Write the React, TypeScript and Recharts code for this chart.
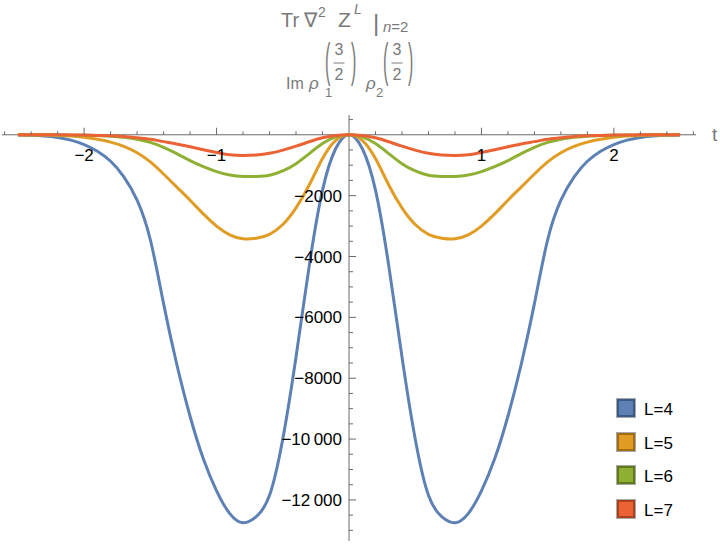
import React from "react";
import {
  LineChart,
  Line,
  XAxis,
  YAxis,
  ReferenceLine,
  ReferenceDot,
  Legend,
} from "recharts";

// t samples, -2.5 .. 2.5
const tValues = [
  -2.5, -2.4, -2.3, -2.2, -2.1, -2.0, -1.9, -1.8, -1.7, -1.6, -1.5, -1.4, -1.3,
  -1.2, -1.1, -1.0, -0.9, -0.8, -0.7, -0.6, -0.5, -0.4, -0.3, -0.2, -0.1, 0,
  0.1, 0.2, 0.3, 0.4, 0.5, 0.6, 0.7, 0.8, 0.9, 1.0, 1.1, 1.2, 1.3, 1.4, 1.5,
  1.6, 1.7, 1.8, 1.9, 2.0, 2.1, 2.2, 2.3, 2.4, 2.5,
];

const l4 = [
  -7, -18, -42, -88, -175, -320, -540, -870, -1380, -2150, -3450, -5550, -7550,
  -9250, -10650, -11700, -12450, -12750, -12550, -11850, -10000, -7300, -4300,
  -1820, -450, 0, -450, -1820, -4300, -7300, -10000, -11850, -12550, -12750,
  -12450, -11700, -10650, -9250, -7550, -5550, -3450, -2150, -1380, -870, -540,
  -320, -175, -88, -42, -18, -7,
];

const l5 = [
  -2, -5, -10, -20, -40, -80, -145, -240, -380, -590, -890, -1290, -1720, -2150,
  -2600, -3000, -3290, -3420, -3400, -3270, -2950, -2400, -1650, -780, -180, 0,
  -180, -780, -1650, -2400, -2950, -3270, -3400, -3420, -3290, -3000, -2600,
  -2150, -1720, -1290, -890, -590, -380, -240, -145, -80, -40, -20, -10, -5, -2,
];

const l6 = [
  0, 0, -1, -3, -6, -12, -25, -45, -85, -145, -250, -410, -620, -850, -1050,
  -1210, -1320, -1370, -1370, -1330, -1190, -950, -620, -290, -70, 0, -70, -290,
  -620, -950, -1190, -1330, -1370, -1370, -1320, -1210, -1050, -850, -620, -410,
  -250, -145, -85, -45, -25, -12, -6, -3, -1, 0, 0,
];

const l7 = [
  0, 0, -1, -2, -5, -10, -20, -35, -60, -100, -150, -225, -300, -395, -490,
  -580, -655, -680, -665, -610, -505, -375, -230, -100, -25, 0, -25, -100, -230,
  -375, -505, -610, -665, -680, -655, -580, -490, -395, -300, -225, -150, -100,
  -60, -35, -20, -10, -5, -2, -1, 0, 0,
];

const seriesKeys = ["L4", "L5", "L6", "L7"];
const seriesNames = ["L=4", "L=5", "L=6", "L=7"];
const seriesColors = ["#5e81b5", "#e19c24", "#8fb032", "#eb6235"];
const seriesEdges = ["#3d5a87", "#a36d12", "#60791c", "#a9421d"];

const xMajorTicks = [-2, -1, 1, 2];
const xMajorLabels = ["\u22122", "\u22121", "1", "2"];
const yMajorTicks = [-12000, -10000, -8000, -6000, -4000, -2000];
const yMajorLabels = [
  "\u221212\u2009000",
  "\u221210\u2009000",
  "\u22128000",
  "\u22126000",
  "\u22124000",
  "\u22122000",
];
const xMinorTicks = Array.from({ length: 27 }, (_, i) => -2.6 + i * 0.2).filter(
  (v) => Math.abs(v) > 1e-6 && Math.abs(v - Math.round(v)) > 1e-6
);
const yMinorTicks = Array.from({ length: 28 }, (_, i) => 500 - i * 500).filter(
  (v) => v !== 0 && v % 2000 !== 0
);

const rows = tValues.map((t, i) => ({
  t,
  L4: l4[i],
  L5: l5[i],
  L6: l6[i],
  L7: l7[i],
}));

const axisColor = "#6b6b6b";
const font = "'Liberation Sans', Arial, sans-serif";
const titleColor = "#7a7a7a";

const xTick = (len: number, label?: string) => (p: any) => (
  <g>
    <line x1={p.cx} y1={p.cy} x2={p.cx} y2={p.cy - len} stroke={axisColor} strokeWidth={1} />
    {label && (
      <text x={p.cx} y={p.cy + 26} textAnchor="middle" fontSize={17} fontFamily={font} fill="#000">
        {label}
      </text>
    )}
  </g>
);

const yTick = (len: number, label?: string) => (p: any) => (
  <g>
    <line x1={p.cx} y1={p.cy} x2={p.cx + len} y2={p.cy} stroke={axisColor} strokeWidth={1} />
    {label && (
      <text x={p.cx - 7} y={p.cy} dy="0.36em" textAnchor="end" fontSize={17} fontFamily={font} fill="#000">
        {label}
      </text>
    )}
  </g>
);

function LegendBox(props: any) {
  const items = props.payload || [];
  return (
    <div style={{ fontFamily: font }}>
      {items.map((it: any) => {
        const idx = seriesKeys.indexOf(it.dataKey);
        return (
          <div key={it.dataKey} style={{ display: "flex", alignItems: "center", height: 18, marginBottom: 15.7 }}>
            <div
              style={{
                width: 14,
                height: 14,
                background: seriesColors[idx],
                border: `2px solid ${seriesEdges[idx]}`,
                outline: "1px solid #a8a8a8",
              }}
            />
            <span style={{ marginLeft: 9, fontSize: 17, color: "#000", position: "relative", top: 2 }}>
              {seriesNames[idx]}
            </span>
          </div>
        );
      })}
    </div>
  );
}

function Paren({ x, y, ch }: { x: number; y: number; ch: string }) {
  return (
    <text transform={`translate(${x},${y}) scale(1,2.9)`} fontSize={16} fontFamily={font} fill={titleColor}>
      {ch}
    </text>
  );
}

function Frac({ x }: { x: number }) {
  return (
    <g fontFamily={font} fontSize={16} fill={titleColor} textAnchor="middle">
      <text x={x} y={55}>3</text>
      <line x1={x - 5.5} x2={x + 5.5} y1={63} y2={63} stroke={titleColor} strokeWidth={1} />
      <text x={x} y={80}>2</text>
    </g>
  );
}

export default function App() {
  return (
    <div style={{ position: "absolute", left: 0, top: 0, width: 720, height: 546, background: "#fff" }}>
      <LineChart width={720} height={546} data={rows} margin={{ top: 115, right: 24, bottom: 5, left: 2 }}>
        <XAxis type="number" dataKey="t" domain={[-2.62, 2.62]} allowDataOverflow hide />
        <YAxis type="number" domain={[-13350, 650]} allowDataOverflow hide />
        <ReferenceLine x={0} stroke={axisColor} strokeWidth={1} />
        <ReferenceLine y={0} stroke={axisColor} strokeWidth={1} />
        {xMinorTicks.map((v) => (
          <ReferenceDot key={`xm${v}`} x={v} y={0} r={0} shape={xTick(3.5)} />
        ))}
        {xMajorTicks.map((v, i) => (
          <ReferenceDot key={`xM${v}`} x={v} y={0} r={0} shape={xTick(7, xMajorLabels[i])} />
        ))}
        {yMinorTicks.map((v) => (
          <ReferenceDot key={`ym${v}`} x={0} y={v} r={0} shape={yTick(4)} />
        ))}
        {yMajorTicks.map((v, i) => (
          <ReferenceDot key={`yM${v}`} x={0} y={v} r={0} shape={yTick(7, yMajorLabels[i])} />
        ))}
        {seriesKeys.map((k, i) => (
          <Line
            key={k}
            type="natural"
            dataKey={k}
            name={seriesNames[i]}
            stroke={seriesColors[i]}
            strokeWidth={3}
            dot={false}
            isAnimationActive={false}
          />
        ))}
        <Legend
          layout="vertical"
          align="center"
          verticalAlign="middle"
          content={<LegendBox />}
          wrapperStyle={{ left: 617, top: 399, width: 100, height: 140 }}
        />
      </LineChart>
      <svg
        width={720}
        height={546}
        style={{ position: "absolute", left: 0, top: 0, pointerEvents: "none" }}
      >
        <g fontFamily={font} fill={titleColor}>
          <text x={281} y={27} fontSize={20}>Tr</text>
          <text x={304} y={27} fontSize={20}>{"\u2207"}</text>
          <text x={318} y={17} fontSize={14}>2</text>
          <text x={338} y={27} fontSize={21}>Z</text>
          <text x={354} y={14} fontSize={14} fontStyle="italic">L</text>
          <text x={373} y={31} fontSize={24}>|</text>
          <text x={383} y={32} fontSize={15}>
            <tspan fontStyle="italic">n</tspan>=2
          </text>
          <text x={286} y={89} fontSize={16}>Im</text>
          <text x={309} y={89} fontSize={17} fontStyle="italic">{"\u03c1"}</text>
          <text x={325} y={97} fontSize={13}>1</text>
          <Paren x={325} y={76} ch="(" />
          <Frac x={339} />
          <Paren x={351} y={76} ch=")" />
          <text x={366} y={89} fontSize={17} fontStyle="italic">{"\u03c1"}</text>
          <text x={376} y={97} fontSize={13}>2</text>
          <Paren x={383} y={76} ch="(" />
          <Frac x={397} />
          <Paren x={408} y={76} ch=")" />
          <text x={712} y={141} fontSize={19}>t</text>
        </g>
      </svg>
    </div>
  );
}
